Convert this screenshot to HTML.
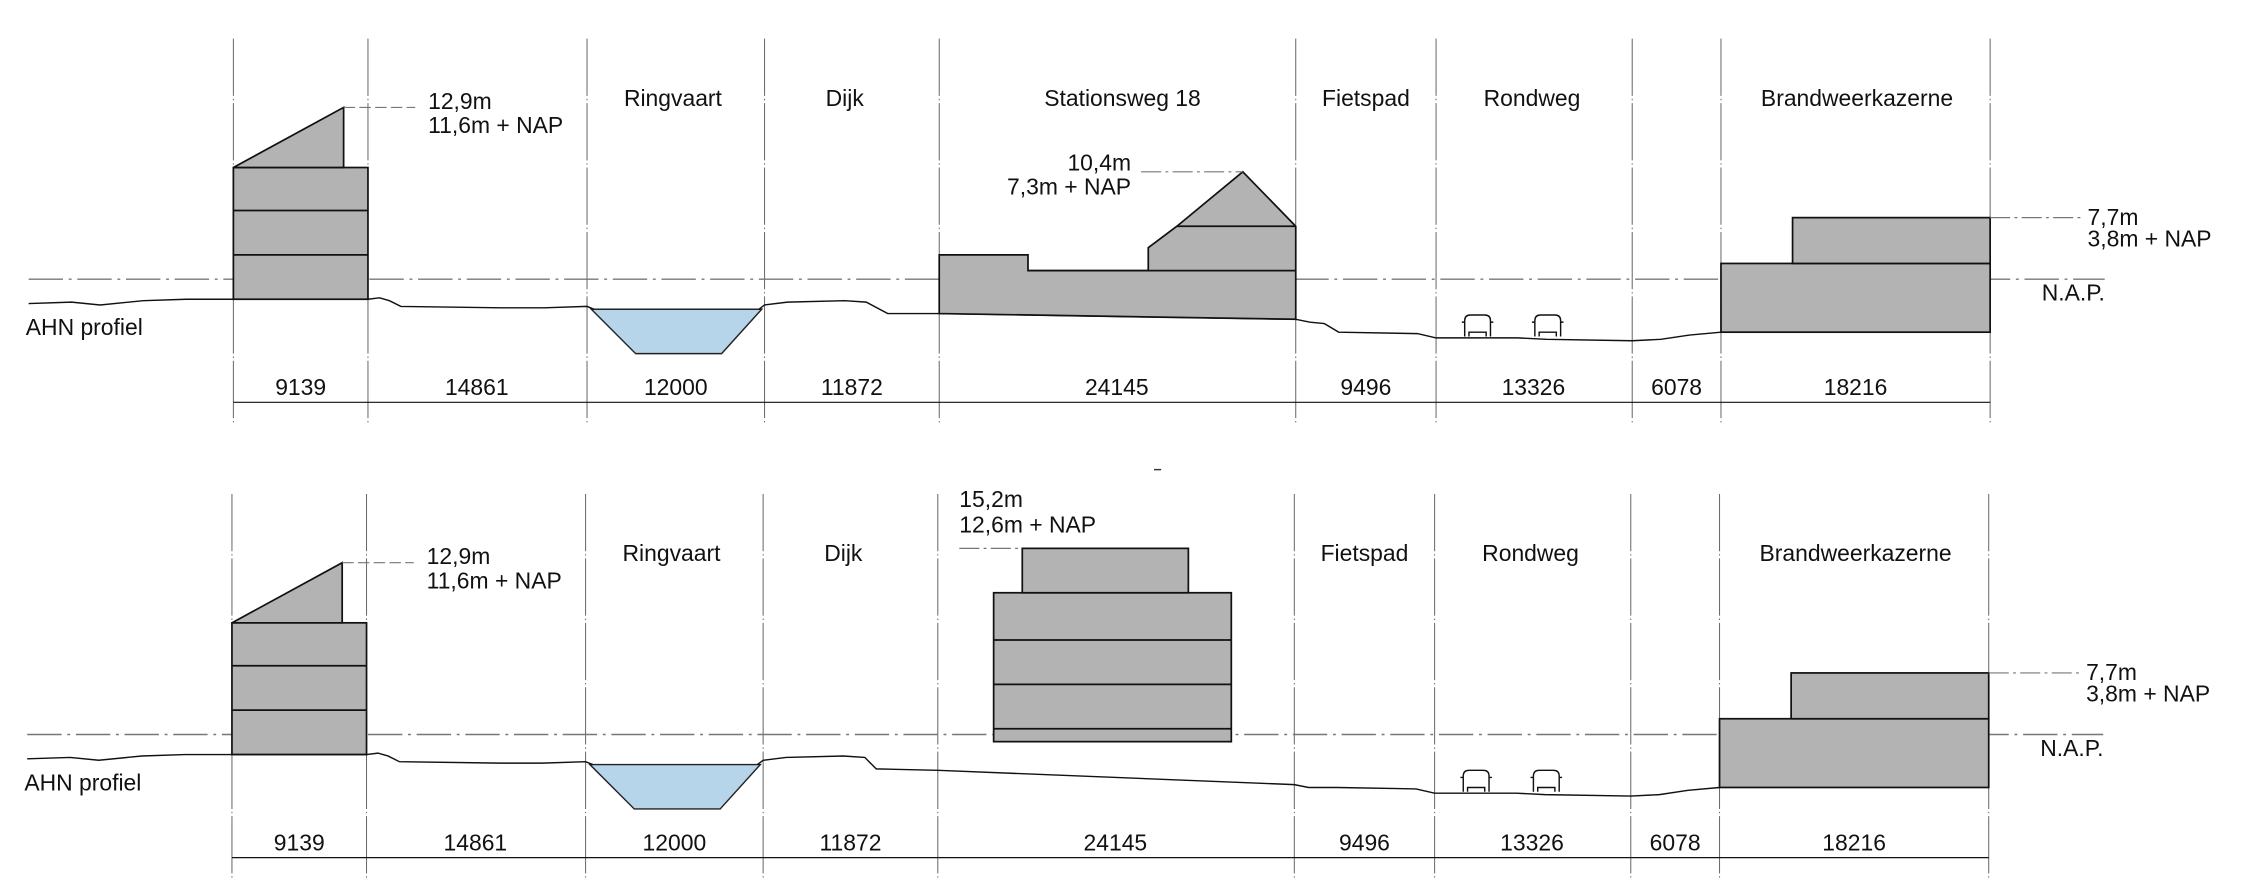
<!DOCTYPE html>
<html><head><meta charset="utf-8"><style>
html,body{margin:0;padding:0;background:#fff;}
svg{display:block;}
text{font-family:"Liberation Sans",sans-serif;font-size:16px;fill:#111;}
</style></head><body>
<svg width="2245" height="892" viewBox="0 0 1568 623" xmlns="http://www.w3.org/2000/svg">
<defs>
<g id="car">
<path d="M-9,14 L-9,3 Q-9,-1 -5,-1 L5,-1 Q9,-1 9,3 L9,14 M-9,4 L-11,4 M9,4 L11,4 M-6,14 L-6,11 L6,11 L6,14" fill="#fff" stroke="#111" stroke-width="1"/>
</g>
<g id="common">
  <g stroke="#666" stroke-width="0.7" stroke-dasharray="40,2,1,2">
    <line x1="163" y1="27" x2="163" y2="297"/><line x1="257" y1="27" x2="257" y2="297"/>
    <line x1="410" y1="27" x2="410" y2="297"/><line x1="534" y1="27" x2="534" y2="297"/>
    <line x1="656" y1="27" x2="656" y2="297"/><line x1="905" y1="27" x2="905" y2="297"/>
    <line x1="1003" y1="27" x2="1003" y2="297"/><line x1="1140" y1="27" x2="1140" y2="297"/>
    <line x1="1202" y1="27" x2="1202" y2="297"/><line x1="1390" y1="27" x2="1390" y2="297"/>
  </g>
  <line x1="163" y1="281" x2="1390" y2="281" stroke="#111" stroke-width="0.8"/>
  <text x="210" y="276" text-anchor="middle">9139</text>
  <text x="333" y="276" text-anchor="middle">14861</text>
  <text x="472" y="276" text-anchor="middle">12000</text>
  <text x="595" y="276" text-anchor="middle">11872</text>
  <text x="780" y="276" text-anchor="middle">24145</text>
  <text x="954" y="276" text-anchor="middle">9496</text>
  <text x="1071" y="276" text-anchor="middle">13326</text>
  <text x="1171" y="276" text-anchor="middle">6078</text>
  <text x="1296" y="276" text-anchor="middle">18216</text>
  <text x="470" y="74" text-anchor="middle">Ringvaart</text>
  <text x="590" y="74" text-anchor="middle">Dijk</text>
  <text x="954" y="74" text-anchor="middle">Fietspad</text>
  <text x="1070" y="74" text-anchor="middle">Rondweg</text>
  <text x="1297" y="74" text-anchor="middle">Brandweerkazerne</text>
  <text x="18" y="234">AHN profiel</text>
  <text x="1426" y="210">N.A.P.</text>
  <line x1="20" y1="195" x2="1470" y2="195" stroke="#777" stroke-width="1" stroke-dasharray="24,4,2,4"/>
  <rect x="163" y="117" width="94" height="92" fill="#b3b3b3" stroke="#111" stroke-width="1.2"/>
  <line x1="163" y1="147" x2="257" y2="147" stroke="#111" stroke-width="1.2"/>
  <line x1="163" y1="178" x2="257" y2="178" stroke="#111" stroke-width="1.2"/>
  <polygon points="163,117 240,75 240,117" fill="#b3b3b3" stroke="#111" stroke-width="1.2"/>
  <line x1="240" y1="75" x2="290" y2="75" stroke="#777" stroke-width="0.8" stroke-dasharray="8,3"/>
  <text x="299" y="76">12,9m</text>
  <text x="299" y="93">11,6m + NAP</text>
  <polygon points="413,216 532,216 504,247 444,247" fill="#b7d5ea" stroke="#222" stroke-width="1"/>
  <rect x="1202" y="184" width="188" height="48" fill="#b3b3b3" stroke="#111" stroke-width="1.2"/>
  <rect x="1252" y="152" width="138" height="32" fill="#b3b3b3" stroke="#111" stroke-width="1.2"/>
  <line x1="1390" y1="152" x2="1454" y2="152" stroke="#777" stroke-width="0.8" stroke-dasharray="14,3,2,3"/>
  <text x="1458" y="157">7,7m</text>
  <text x="1458" y="172">3,8m + NAP</text>
  <use href="#car" x="1032" y="221"/>
  <use href="#car" x="1081" y="221"/>
</g>
</defs>

<use href="#common"/>
<path d="M20,212 L50,211 L70,213 L100,210 L130,209 L163,209 L257,209 L265,208 L272,210 L280,214 L350,215 L380,215 L410,214 L415,216 M530,216 L534,213 L550,211 L590,210 L605,211 L620,219 L656,219 L905,223 L915,225 L925,226 L935,232 L990,233 L1003,236 L1060,236 L1080,237 L1140,238 L1160,237 L1180,234 L1202,232" fill="none" stroke="#111" stroke-width="1"/>
<polygon points="656,178 718,178 718,189 802,189 802,173 822,158 868,120 905,158 905,223 656,219" fill="#b3b3b3" stroke="#111" stroke-width="1.2"/>
<line x1="718" y1="189" x2="905" y2="189" stroke="#111" stroke-width="1.2"/>
<line x1="822" y1="158" x2="905" y2="158" stroke="#111" stroke-width="1.2"/>
<line x1="797" y1="120" x2="868" y2="120" stroke="#777" stroke-width="0.8" stroke-dasharray="14,3,2,3"/>
<text x="790" y="119" text-anchor="end">10,4m</text>
<text x="790" y="136" text-anchor="end">7,3m + NAP</text>
<text x="784" y="74" text-anchor="middle">Stationsweg 18</text>

<g transform="translate(-1,318)">
<use href="#common"/>
<path d="M20,212 L50,211 L70,213 L100,210 L130,209 L163,209 L257,209 L265,208 L272,210 L280,214 L350,215 L380,215 L410,214 L415,216 M530,216 L534,213 L550,211 L590,210 L605,211 L613,219 L656,220 L905,230 L915,232 L925,232 L935,232 L990,233 L1003,236 L1060,236 L1080,237 L1140,238 L1160,237 L1180,234 L1202,232" fill="none" stroke="#111" stroke-width="1"/>
</g>
<rect x="694" y="414" width="166" height="104" fill="#b3b3b3" stroke="#111" stroke-width="1.2"/>
<line x1="694" y1="447" x2="860" y2="447" stroke="#111" stroke-width="1.2"/>
<line x1="694" y1="478" x2="860" y2="478" stroke="#111" stroke-width="1.2"/>
<line x1="694" y1="509" x2="860" y2="509" stroke="#111" stroke-width="1.2"/>
<rect x="714" y="383" width="116" height="31" fill="#b3b3b3" stroke="#111" stroke-width="1.2"/>
<line x1="670" y1="383" x2="714" y2="383" stroke="#777" stroke-width="0.8" stroke-dasharray="14,3,2,3"/>
<text x="670" y="354">15,2m</text>
<text x="670" y="372">12,6m + NAP</text>
<line x1="806" y1="328" x2="811" y2="328" stroke="#333" stroke-width="1"/>
</svg>
</body></html>
